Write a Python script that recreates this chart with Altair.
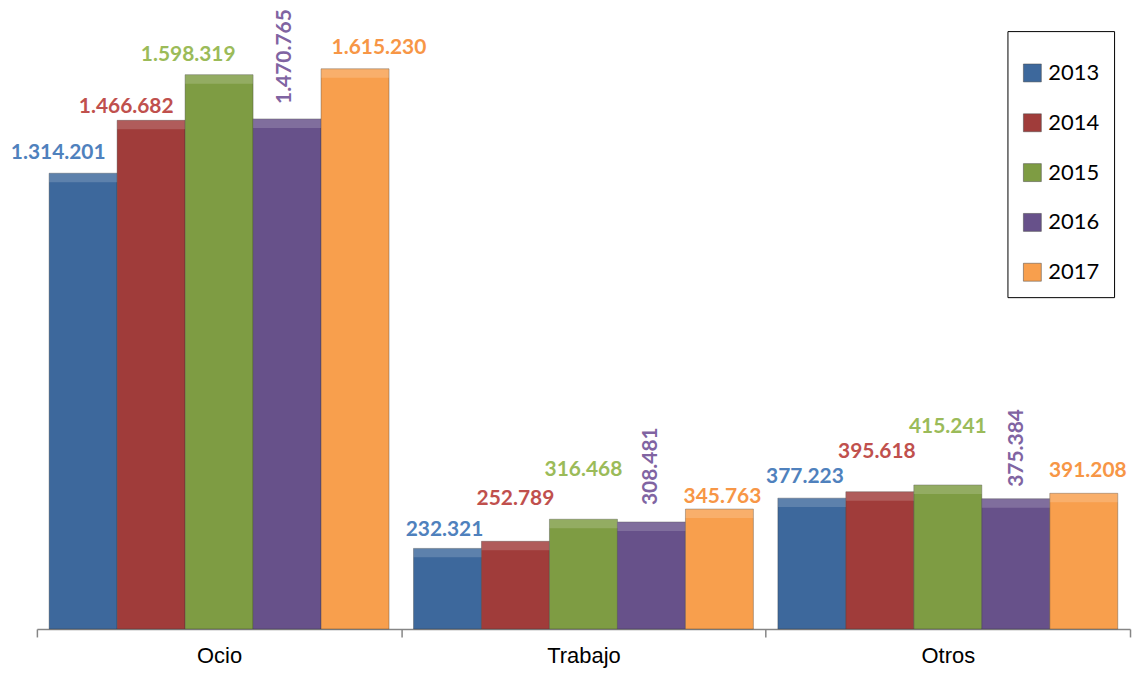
import altair as alt
import pandas as pd

categories = ["Ocio", "Trabajo", "Otros"]
years = ["2013", "2014", "2015", "2016", "2017"]
values_2013 = [1314201, 232321, 377223]
values_2014 = [1466682, 252789, 395618]
values_2015 = [1598319, 316468, 415241]
values_2016 = [1470765, 308481, 375384]
values_2017 = [1615230, 345763, 391208]

bar_colors = ["#3D689C", "#A03C3A", "#7E9C43", "#67518A", "#F89F4D"]
label_colors = ["#4F81BD", "#C0504D", "#9BBB59", "#8064A2", "#F79646"]

# hand-placed label nudges (pixels), per year, per category (Ocio, Trabajo, Otros)
label_nudge_x = {"2013": [-25, -3, -7], "2014": [-25, 0, -3], "2015": [-31, 0, 0],
                 "2016": [-2, 0, 1], "2017": [24, 3, 4]}
label_gap = {"2013": [14, 12, 15], "2014": [7, 36, 34], "2015": [14, 43, 52],
             "2016": [15, 17, 12], "2017": [15, 6, 16]}

series = [values_2013, values_2014, values_2015, values_2016, values_2017]
rows = []
for y, vals in zip(years, series):
    for c, v in zip(categories, vals):
        rows.append({"cat": c, "year": y, "value": v,
                     "label": f"{v:,}".replace(",", ".")})
df = pd.DataFrame(rows)

W = 1097
H = 616

base = alt.Chart(df).encode(
    x=alt.X("cat:N", sort=categories,
            scale=alt.Scale(paddingInner=0, paddingOuter=0),
            axis=alt.Axis(title=None, labelAngle=0, labelFont="Liberation Sans",
                          labelFontSize=22, labelColor="black", tickBand="extent",
                          domainColor="#868686", tickColor="#868686", tickSize=8,
                          labelPadding=9, domainWidth=1.5, tickWidth=1.5)),
    xOffset=alt.XOffset("year:N", sort=years,
                        scale=alt.Scale(domain=years, paddingInner=0, paddingOuter=0.18)),
    y=alt.Y("value:Q", scale=alt.Scale(domain=[0, 1770000], nice=False), axis=None),
)

bars = base.mark_bar(strokeWidth=1, strokeOpacity=0.35, stroke="#333333").encode(
    color=alt.Color("year:N", sort=years,
                    scale=alt.Scale(domain=years, range=bar_colors),
                    legend=alt.Legend(title=" ", titleFontSize=8, titlePadding=9,
                                      orient="none", legendX=W - 123, legendY=16,
                                      strokeColor="black", padding=14,
                                      symbolType="square", symbolSize=324,
                                      symbolStrokeColor="#444444", symbolStrokeWidth=0.5,
                                      labelFont="Lato", labelFontSize=22,
                                      labelColor="black", rowPadding=28,
                                      labelOffset=5, fillColor="white"))
)

top_light = base.mark_bar(y2Offset=9, color="white", opacity=0.17).encode(
    y2=alt.Y2("value:Q")
)

label_layers = []
for yi, yr in enumerate(years):
    for ci, cat in enumerate(categories):
        sel = base.transform_filter(
            (alt.datum.year == yr) & (alt.datum.cat == cat)
        )
        if yr == "2016":
            mk = sel.mark_text(font="Lato", fontWeight="bold", fontSize=21, angle=270,
                               align="left", baseline="middle",
                               dx=label_gap[yr][ci], dy=label_nudge_x[yr][ci],
                               color=label_colors[yi])
        else:
            mk = sel.mark_text(font="Lato", fontWeight="bold", fontSize=21,
                               baseline="alphabetic",
                               dx=label_nudge_x[yr][ci], dy=-label_gap[yr][ci],
                               color=label_colors[yi])
        label_layers.append(mk.encode(text="label:N"))

chart = alt.layer(bars, top_light, *label_layers).properties(
    width=W, height=H,
    autosize=alt.AutoSizeParams(type="none"),
    padding={"left": 29, "top": 6, "right": 4, "bottom": 42},
).configure_view(stroke=None)

chart.save("out.html", embed_options={"renderer": "svg", "actions": False})
